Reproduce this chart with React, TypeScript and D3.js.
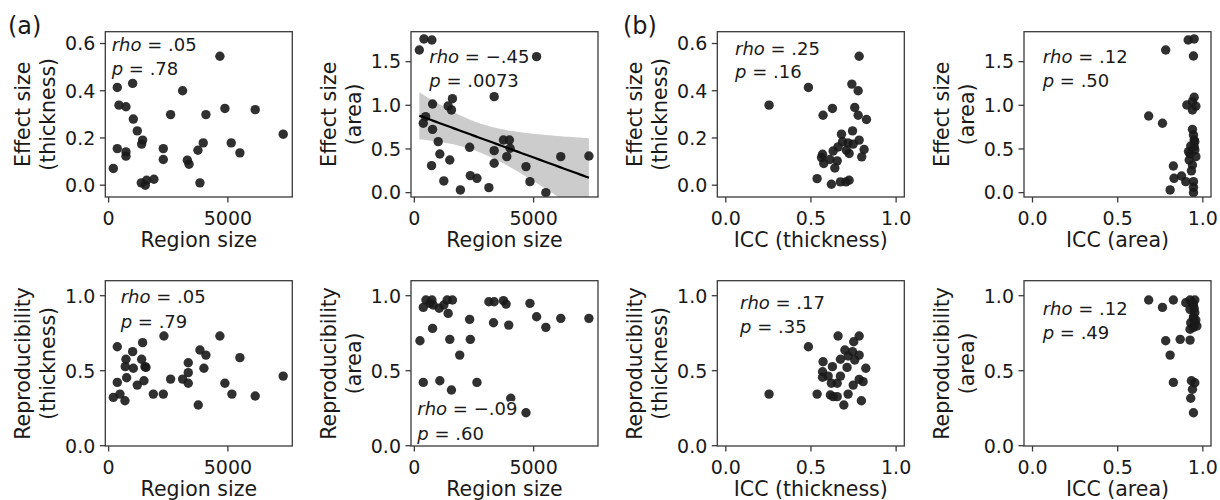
import React from 'react';
import * as d3 from 'd3';

// ---------- data ----------
// (a) top-left: effect size (thickness) vs region size
const sizeA = [196, 363, 363, 433, 726, 726, 726, 1006, 1034, 1201, 1425, 1383, 1369, 1536, 1592, 1899, 2291, 2291, 2598, 3101, 3300, 3370, 3743, 3966, 4078, 3827, 4665, 4874, 5140, 5503, 6145, 7318];
const esThickA = [0.071, 0.414, 0.155, 0.339, 0.332, 0.141, 0.123, 0.431, 0.280, 0.230, 0.191, 0.174, 0.010, 0.000, 0.021, 0.025, 0.155, 0.109, 0.299, 0.400, 0.106, 0.089, 0.148, 0.179, 0.299, 0.010, 0.546, 0.325, 0.179, 0.137, 0.320, 0.216];

// (a) top-right: effect size (area) vs region size
const sizeB = [208, 403, 736, 5125, 3347, 764, 1417, 1597, 1556, 472, 375, 764, 1000, 1069, 1486, 722, 1236, 1931, 2319, 2347, 2625, 3125, 3347, 3347, 3736, 3986, 3875, 4014, 4681, 4847, 5514, 6139, 7319];
const esAreaB = [1.634, 1.760, 1.748, 1.557, 1.099, 1.015, 0.992, 1.076, 0.947, 0.870, 0.794, 0.725, 0.584, 0.443, 0.374, 0.309, 0.134, 0.031, 0.519, 0.195, 0.164, 0.057, 0.481, 0.336, 0.603, 0.603, 0.412, 0.508, 0.298, 0.126, 0.000, 0.412, 0.420];

// (b) effect size (thickness) vs ICC (thickness)
const iccThickC = [0.254, 0.485, 0.783, 0.740, 0.777, 0.757, 0.777, 0.826, 0.571, 0.626, 0.679, 0.744, 0.783, 0.812, 0.798, 0.718, 0.748, 0.724, 0.708, 0.659, 0.630, 0.568, 0.575, 0.611, 0.654, 0.640, 0.536, 0.620, 0.673, 0.705, 0.724, 0.562, 0.685];
const esThickC = [0.339, 0.414, 0.546, 0.428, 0.400, 0.329, 0.296, 0.278, 0.296, 0.325, 0.216, 0.230, 0.191, 0.151, 0.120, 0.179, 0.174, 0.134, 0.148, 0.162, 0.145, 0.131, 0.092, 0.109, 0.103, 0.073, 0.028, 0.004, 0.014, 0.014, 0.021, 0.117, 0.184];

// (b) effect size (area) vs ICC (area)
const iccAreaD = [0.782, 0.914, 0.949, 0.945, 0.682, 0.763, 0.906, 0.949, 0.939, 0.939, 0.939, 0.953, 0.929, 0.953, 0.925, 0.959, 0.920, 0.939, 0.827, 0.831, 0.875, 0.900, 0.945, 0.808, 0.945, 0.945, 0.945, 0.949, 0.916, 0.949, 0.933, 0.959];
const esAreaD = [1.634, 1.748, 1.760, 1.565, 0.878, 0.794, 1.004, 1.092, 1.042, 0.947, 0.725, 0.584, 0.534, 0.489, 0.443, 0.412, 0.374, 0.317, 0.305, 0.164, 0.191, 0.126, 0.126, 0.031, 0.061, 0.000, 0.660, 0.603, 0.470, 0.527, 0.250, 0.990];

// (a) bottom-left: reproducibility (thickness) vs region size
const sizeE = [196, 363, 363, 475, 684, 726, 698, 754, 1006, 1034, 1201, 1425, 1383, 1522, 1564, 1480, 1872, 2291, 2318, 2598, 3101, 3338, 3338, 3338, 3757, 3827, 4078, 3994, 4665, 4874, 5168, 5503, 6145, 7318];
const repThickE = [0.322, 0.660, 0.422, 0.344, 0.300, 0.576, 0.527, 0.453, 0.627, 0.516, 0.404, 0.687, 0.576, 0.527, 0.522, 0.433, 0.344, 0.344, 0.731, 0.444, 0.444, 0.553, 0.487, 0.416, 0.271, 0.638, 0.604, 0.516, 0.731, 0.416, 0.344, 0.587, 0.331, 0.464];

// (a) bottom-right: reproducibility (area) vs region size
const sizeF = [236, 375, 486, 736, 653, 792, 764, 375, 1042, 1236, 1375, 1597, 1417, 1486, 1069, 1556, 1903, 2319, 2347, 2625, 3125, 3347, 3736, 3847, 3319, 3958, 4042, 4681, 4847, 5125, 5514, 6139, 7319];
const repAreaF = [0.700, 0.922, 0.971, 0.971, 0.949, 0.938, 0.782, 0.422, 0.916, 0.938, 0.971, 0.971, 0.882, 0.709, 0.433, 0.371, 0.604, 0.842, 0.709, 0.422, 0.960, 0.960, 0.967, 0.944, 0.820, 0.804, 0.316, 0.220, 0.949, 0.860, 0.789, 0.849, 0.849];

// (b) reproducibility (thickness) vs ICC (thickness)
const iccThickG = [0.254, 0.485, 0.659, 0.783, 0.751, 0.699, 0.744, 0.783, 0.673, 0.757, 0.571, 0.626, 0.712, 0.822, 0.568, 0.568, 0.673, 0.783, 0.806, 0.620, 0.654, 0.748, 0.536, 0.614, 0.630, 0.654, 0.718, 0.796, 0.693, 0.601, 0.718];
const repThickG = [0.344, 0.660, 0.731, 0.731, 0.693, 0.638, 0.627, 0.604, 0.576, 0.571, 0.560, 0.527, 0.522, 0.516, 0.493, 0.456, 0.464, 0.442, 0.427, 0.416, 0.416, 0.404, 0.344, 0.338, 0.327, 0.327, 0.344, 0.300, 0.271, 0.464, 0.598];

// (b) reproducibility (area) vs ICC (area)
const iccAreaH = [0.682, 0.763, 0.827, 0.900, 0.925, 0.953, 0.945, 0.925, 0.953, 0.945, 0.959, 0.929, 0.965, 0.925, 0.945, 0.782, 0.867, 0.925, 0.808, 0.827, 0.933, 0.953, 0.939, 0.929, 0.945, 0.939, 0.949, 0.945, 0.953];
const repAreaH = [0.971, 0.922, 0.971, 0.953, 0.971, 0.971, 0.938, 0.909, 0.887, 0.860, 0.838, 0.820, 0.798, 0.776, 0.789, 0.700, 0.709, 0.704, 0.604, 0.422, 0.433, 0.420, 0.376, 0.316, 0.220, 0.953, 0.916, 0.850, 0.815];

// stats annotations
const rhoLabels = ['.05', '\u2212.45', '.25', '.12', '.05', '\u2212.09', '.17', '.12'];
const pLabels = ['.78', '.0073', '.16', '.50', '.79', '.60', '.35', '.49'];

// ticks
const sizeTicks = [0, 5000];
const iccTicks = [0, 0.5, 1.0];
const esThickTicks = [0, 0.2, 0.4, 0.6];
const esAreaTicks = [0, 0.5, 1.0, 1.5];
const repTicks = [0, 0.5, 1.0];

// domains
const sizeDomain: [number, number] = [-140, 7700];
const iccDomain: [number, number] = [-0.05, 1.048];
const esThickDomain: [number, number] = [-0.05, 0.65];
const esAreaDomain: [number, number] = [-0.05, 1.843];
const repDomain: [number, number] = [-0.002, 1.1];

// ---------- layout ----------
const W = 1220;
const H = 500;
const colLeft = [105.3, 411, 717.3, 1024];
const rowTop = [31.7, 280.7];
const PW = 187;
const PH = 165.3;

const FONT = '"DejaVu Sans", sans-serif';
const INK = '#1a1a1a';
const SPINE = '#3a3a3a';

type PanelDef = {
  col: number;
  row: number;
  xs: number[];
  ys: number[];
  xDomain: [number, number];
  yDomain: [number, number];
  xTicks: number[];
  yTicks: number[];
  xFmt: (v: number) => string;
  xLabel: string;
  yLabel: [string, string];
  ann: [number, number, number];
  fit?: boolean;
};

const fmtInt = (v: number) => d3.format('d')(v);
const fmt1 = (v: number) => d3.format('.1f')(v);

const panels: PanelDef[] = [
  { col: 0, row: 0, xs: sizeA, ys: esThickA, xDomain: sizeDomain, yDomain: esThickDomain, xTicks: sizeTicks, yTicks: esThickTicks, xFmt: fmtInt, xLabel: 'Region size', yLabel: ['Effect size', '(thickness)'], ann: [6.4, 18.8, 43.3] },
  { col: 1, row: 0, xs: sizeB, ys: esAreaB, xDomain: sizeDomain, yDomain: esAreaDomain, xTicks: sizeTicks, yTicks: esAreaTicks, xFmt: fmtInt, xLabel: 'Region size', yLabel: ['Effect size', '(area)'], ann: [18.3, 31.6, 55.3], fit: true },
  { col: 2, row: 0, xs: iccThickC, ys: esThickC, xDomain: iccDomain, yDomain: esThickDomain, xTicks: iccTicks, yTicks: esThickTicks, xFmt: fmt1, xLabel: 'ICC (thickness)', yLabel: ['Effect size', '(thickness)'], ann: [17.7, 23.3, 46.6] },
  { col: 3, row: 0, xs: iccAreaD, ys: esAreaD, xDomain: iccDomain, yDomain: esAreaDomain, xTicks: iccTicks, yTicks: esAreaTicks, xFmt: fmt1, xLabel: 'ICC (area)', yLabel: ['Effect size', '(area)'], ann: [18.7, 31.6, 55] },
  { col: 0, row: 1, xs: sizeE, ys: repThickE, xDomain: sizeDomain, yDomain: repDomain, xTicks: sizeTicks, yTicks: repTicks, xFmt: fmtInt, xLabel: 'Region size', yLabel: ['Reproducibility', '(thickness)'], ann: [15.4, 22.6, 47.6] },
  { col: 1, row: 1, xs: sizeF, ys: repAreaF, xDomain: sizeDomain, yDomain: repDomain, xTicks: sizeTicks, yTicks: repTicks, xFmt: fmtInt, xLabel: 'Region size', yLabel: ['Reproducibility', '(area)'], ann: [6.3, 134.3, 159.3] },
  { col: 2, row: 1, xs: iccThickG, ys: repThickG, xDomain: iccDomain, yDomain: repDomain, xTicks: iccTicks, yTicks: repTicks, xFmt: fmt1, xLabel: 'ICC (thickness)', yLabel: ['Reproducibility', '(thickness)'], ann: [22.7, 28.6, 52.6] },
  { col: 3, row: 1, xs: iccAreaH, ys: repAreaH, xDomain: iccDomain, yDomain: repDomain, xTicks: iccTicks, yTicks: repTicks, xFmt: fmt1, xLabel: 'ICC (area)', yLabel: ['Reproducibility', '(area)'], ann: [18.7, 34.3, 58.6] },
];

function fitBand(xs: number[], ys: number[]) {
  const n = xs.length;
  const mx = d3.mean(xs) as number;
  const my = d3.mean(ys) as number;
  let sxx = 0, sxy = 0;
  for (let i = 0; i < n; i++) {
    sxx += (xs[i] - mx) ** 2;
    sxy += (xs[i] - mx) * (ys[i] - my);
  }
  const b = sxy / sxx;
  const a = my - b * mx;
  let sse = 0;
  for (let i = 0; i < n; i++) sse += (ys[i] - (a + b * xs[i])) ** 2;
  const s = Math.sqrt(sse / (n - 2));
  const t = 2.04;
  const [x0, x1] = d3.extent(xs) as [number, number];
  const samples = d3.range(0, 61).map((k) => x0 + ((x1 - x0) * k) / 60);
  return samples.map((x) => {
    const yhat = a + b * x;
    const se = s * Math.sqrt(1 / n + (x - mx) ** 2 / sxx);
    return { x, y: yhat, lo: yhat - t * se, hi: yhat + t * se };
  });
}

function Panel({ p, idx }: { p: PanelDef; idx: number }) {
  const left = colLeft[p.col];
  const top = rowTop[p.row];
  const xS = d3.scaleLinear().domain(p.xDomain).range([left, left + PW]);
  const yS = d3.scaleLinear().domain(p.yDomain).range([top + PH, top]);
  const bottom = top + PH;
  const clipId = `clip-${idx}`;
  const fit = p.fit ? fitBand(p.xs, p.ys) : null;
  const area = d3
    .area<{ x: number; lo: number; hi: number }>()
    .x((d) => xS(d.x))
    .y0((d) => yS(d.lo))
    .y1((d) => yS(d.hi));
  const line = d3
    .line<{ x: number; y: number }>()
    .x((d) => xS(d.x))
    .y((d) => yS(d.y));
  const midY = top + PH / 2;
  return (
    <g>
      <defs>
        <clipPath id={clipId}>
          <rect x={left} y={top} width={PW} height={PH} />
        </clipPath>
      </defs>
      {fit && (
        <g clipPath={`url(#${clipId})`}>
          <path d={area(fit) || ''} fill="#cccccc" stroke="none" />
        </g>
      )}
      <g clipPath={`url(#${clipId})`}>
        {p.xs.map((xv, i) => (
          <circle key={i} cx={xS(xv)} cy={yS(p.ys[i])} r={4.7} fill={INK} fillOpacity={0.9} />
        ))}
      </g>
      {fit && (
        <g clipPath={`url(#${clipId})`}>
          <path d={line(fit) || ''} fill="none" stroke="#000" strokeWidth={2.2} />
        </g>
      )}
      {/* annotation */}
      <g fontFamily={FONT} fontSize={18} fill={INK} stroke="#fff" strokeWidth={2} paintOrder="stroke" strokeLinejoin="round">
        <text x={left + p.ann[0]} y={top + p.ann[1]}>
          <tspan fontStyle="italic">rho</tspan>
          {' = ' + rhoLabels[idx]}
        </text>
        <text x={left + p.ann[0]} y={top + p.ann[2]}>
          <tspan fontStyle="italic">p</tspan>
          {' = ' + pLabels[idx]}
        </text>
      </g>
      {/* frame */}
      <rect x={left} y={top} width={PW} height={PH} fill="none" stroke={SPINE} strokeWidth={1.3} />
      {/* x ticks */}
      {p.xTicks.map((t) => (
        <g key={'x' + t}>
          <line x1={xS(t)} x2={xS(t)} y1={bottom} y2={bottom + 5.5} stroke={SPINE} strokeWidth={1.3} />
          <text x={xS(t)} y={bottom + 28} textAnchor="middle" fontFamily={FONT} fontSize={19} fill={INK}>
            {p.xFmt(t)}
          </text>
        </g>
      ))}
      {/* y ticks */}
      {p.yTicks.map((t) => (
        <g key={'y' + t}>
          <line x1={left - 5.5} x2={left} y1={yS(t)} y2={yS(t)} stroke={SPINE} strokeWidth={1.3} />
          <text x={left - 10} y={yS(t)} dy="0.36em" textAnchor="end" fontFamily={FONT} fontSize={19} fill={INK}>
            {fmt1(t)}
          </text>
        </g>
      ))}
      {/* axis labels */}
      <text x={left + PW / 2} y={bottom + 49.5} textAnchor="middle" fontFamily={FONT} fontSize={20.5} fill={INK}>
        {p.xLabel}
      </text>
      <text transform={`translate(${left - 75},${midY}) rotate(-90)`} textAnchor="middle" fontFamily={FONT} fontSize={20.5} fill={INK}>
        {p.yLabel[0]}
      </text>
      <text transform={`translate(${left - 50},${midY}) rotate(-90)`} textAnchor="middle" fontFamily={FONT} fontSize={20.5} fill={INK}>
        {p.yLabel[1]}
      </text>
    </g>
  );
}

export default function App() {
  return (
    <svg
      width={W}
      height={H}
      viewBox={`0 0 ${W} ${H}`}
      style={{ position: 'absolute', left: 0, top: 0, display: 'block', background: '#fff' }}
    >
      <rect x={0} y={0} width={W} height={H} fill="#fff" />
      <text x={8} y={34.4} fontFamily={FONT} fontSize={24} fill={INK}>(a)</text>
      <text x={623} y={34.4} fontFamily={FONT} fontSize={24} fill={INK}>(b)</text>
      {panels.map((p, i) => (
        <Panel key={i} p={p} idx={i} />
      ))}
    </svg>
  );
}
